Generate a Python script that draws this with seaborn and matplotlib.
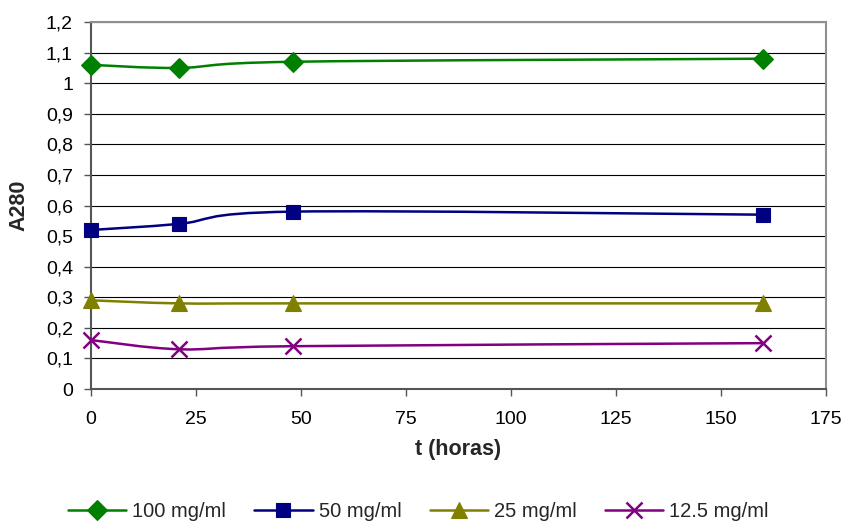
import numpy as np
import pandas as pd
import matplotlib
matplotlib.use("Agg")
import matplotlib.pyplot as plt
import seaborn as sns
from matplotlib.path import Path
from matplotlib.patches import PathPatch
from matplotlib.lines import Line2D
from matplotlib.ticker import FuncFormatter, MultipleLocator

# data
t_horas = [0, 21, 48, 160]
a280_100 = [1.06, 1.05, 1.07, 1.08]
a280_50 = [0.52, 0.54, 0.58, 0.57]
a280_25 = [0.29, 0.28, 0.28, 0.28]
a280_12_5 = [0.16, 0.13, 0.14, 0.15]
series_names = ["100 mg/ml", "50 mg/ml", "25 mg/ml", "12.5 mg/ml"]

colors = ["#008000", "#000080", "#808000", "#800080"]
markers = ["D", "s", "^", "x"]
msizes = [10, 10, 11, 11]

df = pd.DataFrame({
    "t": t_horas * 4,
    "A280": a280_100 + a280_50 + a280_25 + a280_12_5,
    "serie": np.repeat(series_names, len(t_horas)),
})

sns.set_theme(style="white")
plt.rcParams["font.family"] = ["Liberation Sans", "DejaVu Sans"]

fig = plt.figure(figsize=(8.45, 5.24), dpi=100)
ax = fig.add_axes([0.1077, 0.2576, 0.8698, 0.7004])


def smooth_path(x, y):
    # Excel-like smoothed line: Catmull-Rom segments as cubic Bezier
    pts = np.column_stack([x, y]).astype(float)
    n = len(pts)
    verts = [pts[0]]
    codes = [Path.MOVETO]
    for i in range(n - 1):
        p0 = pts[i - 1] if i > 0 else pts[i]
        p1 = pts[i]
        p2 = pts[i + 1]
        p3 = pts[i + 2] if i + 2 < n else pts[i + 1]
        c1 = p1 + (p2 - p0) / 6.0
        c2 = p2 - (p3 - p1) / 6.0
        verts += [c1, c2, p2]
        codes += [Path.CURVE4] * 3
    return Path(verts, codes)


handles = []
for name, c, m, ms in zip(series_names, colors, markers, msizes):
    sub = df[df["serie"] == name]
    mew = 1.8 if m == "x" else 0.8
    ax.add_patch(PathPatch(smooth_path(sub["t"], sub["A280"]), facecolor="none",
                           edgecolor=c, lw=1.8, zorder=3, clip_on=False))
    sns.lineplot(data=sub, x="t", y="A280", ax=ax, color=c, marker=m, markersize=ms,
                 markeredgecolor=c, markeredgewidth=mew,
                 linestyle="none", zorder=4, clip_on=False, legend=False)
    handles.append(Line2D([], [], color=c, lw=1.8, marker=m, markersize=ms,
                          markeredgecolor=c, markeredgewidth=mew, label=name))

ax.set_xlim(0, 175)
ax.set_ylim(0, 1.2)
ax.xaxis.set_major_locator(MultipleLocator(25))
ax.yaxis.set_major_locator(MultipleLocator(0.1))
ax.yaxis.set_major_formatter(FuncFormatter(lambda v, p: ("%g" % round(v, 2)).replace(".", ",")))
ax.yaxis.grid(True, color="black", lw=0.8)
ax.xaxis.grid(False)
ax.set_axisbelow(True)

for s in ["left", "bottom"]:
    ax.spines[s].set_color("#555555")
    ax.spines[s].set_linewidth(1.5)
for s in ["top", "right"]:
    ax.spines[s].set_color("#909090")
    ax.spines[s].set_linewidth(1.5)

ax.tick_params(axis="both", direction="out", length=5, width=1, color="#555555",
               labelsize=14, labelcolor="black", left=True, bottom=True)
ax.tick_params(axis="y", pad=8)
ax.tick_params(axis="x", pad=11)

ax.set_xlabel("t (horas)", fontsize=15.5, fontweight="bold", labelpad=8)
ax.set_ylabel("A280", fontsize=15.5, fontweight="bold", labelpad=12)

fig.legend(handles=handles, loc="center", bbox_to_anchor=(0.495, 0.023), ncol=4,
           frameon=False, fontsize=14.5, handlelength=2.9, handletextpad=0.3,
           columnspacing=1.4, borderpad=0, borderaxespad=0)

fig.savefig("out.png", dpi=100)
